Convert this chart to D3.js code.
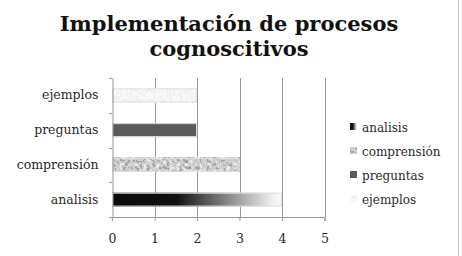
<!DOCTYPE html>
<html>
<head>
<meta charset="utf-8">
<script src="https://cdn.jsdelivr.net/npm/d3@7"></script>
<style>
body{margin:0;background:#fff;}
svg text{font-family:"DejaVu Serif",serif;}
</style>
</head>
<body>
<div id="chart"></div>
<script>
// datos del grafico
var categorias = ["analisis", "comprensión", "preguntas", "ejemplos"];
var valores = [4, 3, 2, 2];
var ticksX = [0, 1, 2, 3, 4, 5];
var titulo = ["Implementación de procesos", "cognoscitivos"];

var W = 462, H = 256;
var margin = {left: 112, right: 138, top: 78, bottom: 39};

var svg = d3.select("#chart").append("svg")
    .attr("width", W).attr("height", H);

svg.append("rect").attr("x", 0).attr("y", 0).attr("width", W).attr("height", H).attr("fill", "#fff");
// borde derecho
svg.append("line").attr("x1", 458.5).attr("x2", 458.5).attr("y1", 0).attr("y2", H)
    .attr("stroke", "#c8c8c8").attr("stroke-width", 1);

var defs = svg.append("defs");

// degradado de analisis
var grad = defs.append("linearGradient").attr("id", "gAnalisis").attr("x1", "0").attr("x2", "1").attr("y1", "0").attr("y2", "0");
grad.append("stop").attr("offset", "0").attr("stop-color", "#0a0a0a");
grad.append("stop").attr("offset", "0.38").attr("stop-color", "#111");
grad.append("stop").attr("offset", "0.95").attr("stop-color", "#f2f2f2");
grad.append("stop").attr("offset", "1").attr("stop-color", "#fafafa");

// textura tipo granito
function textura(id, freq, tableVals, seed) {
    var f = defs.append("filter").attr("id", id).attr("x", 0).attr("y", 0).attr("width", 1).attr("height", 1);
    f.append("feTurbulence").attr("type", "fractalNoise").attr("baseFrequency", freq)
        .attr("numOctaves", 2).attr("seed", seed).attr("result", "n");
    f.append("feColorMatrix").attr("in", "n").attr("type", "matrix")
        .attr("values", "0.33 0.33 0.33 0 0  0.33 0.33 0.33 0 0  0.33 0.33 0.33 0 0  0 0 0 0 1")
        .attr("result", "g");
    var ct = f.append("feComponentTransfer").attr("in", "g");
    ["feFuncR", "feFuncG", "feFuncB"].forEach(function (c) {
        ct.append(c).attr("type", "discrete").attr("tableValues", tableVals);
    });
}
textura("tComp", 0.3, "0.2 0.25 0.38 0.62 0.84 0.9 0.9", 3);
textura("tEjem", 0.3, "0.8 0.84 0.88 0.95 0.98 0.97", 7);

var estilos = {
    "analisis": {fill: "url(#gAnalisis)"},
    "comprensión": {fill: "#999", filter: "url(#tComp)"},
    "preguntas": {fill: "#5a5a5a"},
    "ejemplos": {fill: "#eee", filter: "url(#tEjem)"}
};

var x = d3.scaleLinear().domain([0, 5]).range([margin.left, W - margin.right + 0.5]);
var y = d3.scaleBand().domain(categorias.slice().reverse()).range([margin.top, H - margin.bottom]).paddingInner(0.6).paddingOuter(0.3);
var yb = d3.scaleBand().domain(categorias.slice().reverse()).range([margin.top, H - margin.bottom]);

// lineas de cuadricula
svg.append("g").selectAll("line").data(ticksX.slice(1)).enter().append("line")
    .attr("x1", function (d) { return Math.round(x(d)) + 0.5; })
    .attr("x2", function (d) { return Math.round(x(d)) + 0.5; })
    .attr("y1", margin.top).attr("y2", H - margin.bottom)
    .attr("stroke", "#999").attr("stroke-width", 1);

// barras
svg.append("g").selectAll("g.barra").data(categorias).enter().append("g").attr("class", "barra")
    .each(function (d, i) {
        var g = d3.select(this);
        var e = estilos[d];
        var r = g.append("rect")
            .attr("x", x(0)).attr("y", y(d))
            .attr("width", x(valores[i]) - x(0)).attr("height", y.bandwidth())
            .attr("fill", e.fill);
        if (e.filter) r.attr("filter", e.filter);
        g.append("rect")
            .attr("x", x(0) + 0.5).attr("y", y(d) + 0.5)
            .attr("width", x(valores[i]) - x(0) - 1).attr("height", y.bandwidth() - 1)
            .attr("fill", "none").attr("stroke", "#e0e0e0").attr("stroke-width", 1);
    });

// eje x
var ejeX = svg.append("g").attr("transform", "translate(0," + (H - margin.bottom) + ")")
    .call(d3.axisBottom(x).tickValues(ticksX).tickSize(4).tickPadding(13).tickFormat(d3.format("d")));
ejeX.select(".domain").attr("stroke", "#999");
ejeX.selectAll(".tick line").attr("stroke", "#999");
ejeX.selectAll("text").style("font-size", "12.5px").attr("fill", "#2a2a2a").style("font-family", "DejaVu Serif, serif");

// eje y
var ejeY = svg.append("g").attr("transform", "translate(" + (margin.left + 0.5) + ",0)")
    .call(d3.axisLeft(yb).tickSize(0).tickPadding(14));
ejeY.select(".domain").attr("stroke", "#999");
ejeY.selectAll("text").style("font-size", "12.5px").attr("fill", "#2a2a2a").style("font-family", "DejaVu Serif, serif");
// marcas entre categorias
var limites = categorias.map(function (d) { return yb(d); }).concat([H - margin.bottom]);
svg.append("g").selectAll("line").data(limites).enter().append("line")
    .attr("x1", margin.left - 3).attr("x2", margin.left + 0.5)
    .attr("y1", function (d) { return Math.round(d) + 0.5; })
    .attr("y2", function (d) { return Math.round(d) + 0.5; })
    .attr("stroke", "#999");

// titulo
svg.append("g").selectAll("text").data(titulo).enter().append("text")
    .attr("x", 229).attr("y", function (d, i) { return 31 + i * 25; })
    .attr("text-anchor", "middle")
    .style("font-size", "21px").style("font-weight", "bold").attr("fill", "#111")
    .text(function (d) { return d; });

// leyenda
var ley = svg.append("g").attr("transform", "translate(350,127)");
var item = ley.selectAll("g").data(categorias).enter().append("g")
    .attr("transform", function (d, i) { return "translate(0," + (i * 24) + ")"; });
item.append("rect").attr("x", 0).attr("y", -4).attr("width", 7).attr("height", 7)
    .attr("fill", function (d) { return estilos[d].fill; })
    .attr("filter", function (d) { return estilos[d].filter || null; });
item.append("text").attr("x", 12).attr("y", 4.5)
    .style("font-size", "12px").attr("fill", "#2a2a2a")
    .text(function (d) { return d; });
</script>
</body>
</html>
